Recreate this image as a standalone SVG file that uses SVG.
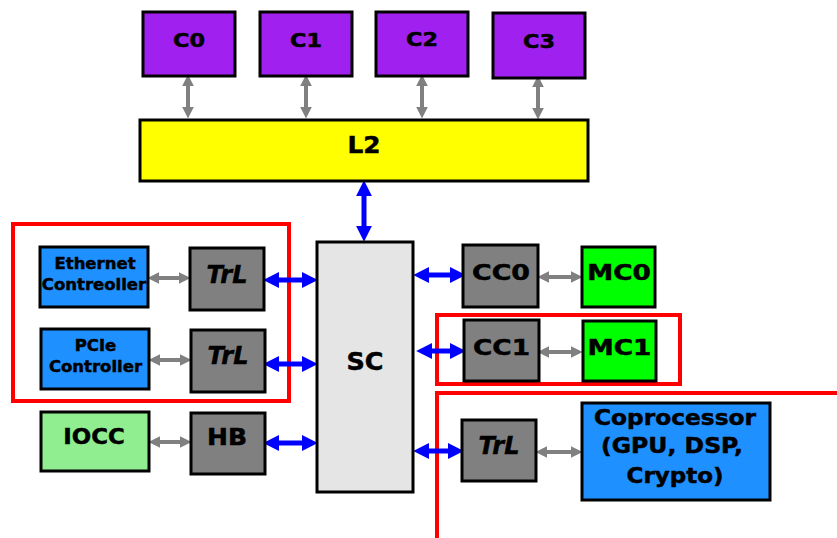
<svg xmlns="http://www.w3.org/2000/svg" width="837" height="538" viewBox="0 0 837 538">
<style>
.n{stroke:#000;stroke-width:3}
.t{font-family:"DejaVu Sans",sans-serif;font-weight:bold;text-anchor:middle;fill:#000;stroke:#000;stroke-width:0.5}
.g{stroke:#808080;stroke-width:4;fill:none}
.b{stroke:#0000ff;stroke-width:5;fill:none}
.r{stroke:#ff0000;stroke-width:4;fill:none}
</style>
<defs>
<marker id="gh" viewBox="0 0 10 10" refX="2" refY="5" markerWidth="3" markerHeight="3" orient="auto-start-reverse" markerUnits="strokeWidth"><path d="M0,0L10,5L0,10z" fill="#808080"/></marker>
<marker id="bh" viewBox="0 0 10 10" refX="2" refY="5" markerWidth="3.2" markerHeight="3.2" orient="auto-start-reverse" markerUnits="strokeWidth"><path d="M0,0L10,5L0,10z" fill="#0000ff"/></marker>
</defs>
<rect width="837" height="538" fill="#fff"/>
<g id="regions">
<rect class="r" x="13" y="224" width="276" height="177"/>
<rect class="r" x="437" y="315" width="243" height="69"/>
<path class="r" d="M437,538V393H837"/>
</g>
<g id="connectors">
<line class="g" x1="188" y1="84" x2="188" y2="109" marker-start="url(#gh)" marker-end="url(#gh)"/>
<line class="g" x1="306" y1="84" x2="306" y2="109" marker-start="url(#gh)" marker-end="url(#gh)"/>
<line class="g" x1="422" y1="84" x2="422" y2="109" marker-start="url(#gh)" marker-end="url(#gh)"/>
<line class="g" x1="538" y1="85" x2="538" y2="110" marker-start="url(#gh)" marker-end="url(#gh)"/>
<line class="b" x1="364" y1="193" x2="364" y2="229" marker-start="url(#bh)" marker-end="url(#bh)"/>
<line class="g" x1="157" y1="278" x2="181" y2="278" marker-start="url(#gh)" marker-end="url(#gh)"/>
<line class="g" x1="158" y1="360" x2="182" y2="360" marker-start="url(#gh)" marker-end="url(#gh)"/>
<line class="g" x1="158" y1="442" x2="182" y2="442" marker-start="url(#gh)" marker-end="url(#gh)"/>
<line class="b" x1="276" y1="280" x2="305" y2="280" marker-start="url(#bh)" marker-end="url(#bh)"/>
<line class="b" x1="276" y1="364" x2="305" y2="364" marker-start="url(#bh)" marker-end="url(#bh)"/>
<line class="b" x1="276" y1="443" x2="305" y2="443" marker-start="url(#bh)" marker-end="url(#bh)"/>
<line class="b" x1="426" y1="275" x2="453" y2="275" marker-start="url(#bh)" marker-end="url(#bh)"/>
<line class="b" x1="429" y1="351" x2="453" y2="351" marker-start="url(#bh)" marker-end="url(#bh)"/>
<line class="b" x1="426" y1="451" x2="451" y2="451" marker-start="url(#bh)" marker-end="url(#bh)"/>
<line class="g" x1="547" y1="277" x2="573" y2="277" marker-start="url(#gh)" marker-end="url(#gh)"/>
<line class="g" x1="547" y1="352" x2="573" y2="352" marker-start="url(#gh)" marker-end="url(#gh)"/>
<line class="g" x1="545" y1="452" x2="573" y2="452" marker-start="url(#gh)" marker-end="url(#gh)"/>
</g>
<g id="C0"><rect class="n" x="143" y="12" width="92" height="64" fill="#a020f0"/><text class="t" x="189" y="47" font-size="20" textLength="32" lengthAdjust="spacingAndGlyphs">C0</text></g>
<g id="C1"><rect class="n" x="260" y="12" width="92" height="64" fill="#a020f0"/><text class="t" x="306" y="47" font-size="20" textLength="32" lengthAdjust="spacingAndGlyphs">C1</text></g>
<g id="C2"><rect class="n" x="376" y="12" width="92" height="64" fill="#a020f0"/><text class="t" x="422" y="46" font-size="20" textLength="32" lengthAdjust="spacingAndGlyphs">C2</text></g>
<g id="C3"><rect class="n" x="493" y="13" width="92" height="65" fill="#a020f0"/><text class="t" x="539" y="48" font-size="20" textLength="32" lengthAdjust="spacingAndGlyphs">C3</text></g>
<g id="L2"><rect class="n" x="140" y="120" width="448" height="61" fill="#ffff00"/><text class="t" x="364" y="153" font-size="22.5" textLength="33" lengthAdjust="spacingAndGlyphs">L2</text></g>
<g id="SC"><rect class="n" x="317" y="242" width="96" height="250" fill="#e5e5e5"/><text class="t" x="365" y="370" font-size="24" textLength="37" lengthAdjust="spacingAndGlyphs">SC</text></g>
<g id="Ethernet"><rect class="n" x="40" y="247" width="108" height="60" fill="#1e90ff"/><text class="t" x="95" y="269" font-size="16.5">Ethernet</text><text class="t" x="94" y="290" font-size="16.5">Contreoller</text></g>
<g id="TrL1"><rect class="n" x="190" y="248" width="74" height="62" fill="#808080"/><text class="t" x="227" y="283" font-size="24" font-style="italic">TrL</text></g>
<g id="PCIe"><rect class="n" x="41" y="329" width="108" height="60" fill="#1e90ff"/><text class="t" x="95.5" y="351" font-size="16.5">PCIe</text><text class="t" x="95.5" y="372" font-size="16.5">Controller</text></g>
<g id="TrL2"><rect class="n" x="191" y="330" width="74" height="62" fill="#808080"/><text class="t" x="228" y="364" font-size="24" font-style="italic">TrL</text></g>
<g id="IOCC"><rect class="n" x="41" y="412" width="108" height="59" fill="#90ee90"/><text class="t" x="94" y="444" font-size="22" textLength="61.5" lengthAdjust="spacingAndGlyphs">IOCC</text></g>
<g id="HB"><rect class="n" x="191" y="413" width="74" height="61" fill="#808080"/><text class="t" x="227" y="445" font-size="23" textLength="40" lengthAdjust="spacingAndGlyphs">HB</text></g>
<g id="CC0"><rect class="n" x="463" y="245" width="75" height="62" fill="#808080"/><text class="t" x="501" y="280" font-size="22" textLength="58" lengthAdjust="spacingAndGlyphs">CC0</text></g>
<g id="MC0"><rect class="n" x="582" y="247" width="73" height="60" fill="#00ff00"/><text class="t" x="619" y="280" font-size="22" textLength="64" lengthAdjust="spacingAndGlyphs">MC0</text></g>
<g id="CC1"><rect class="n" x="464" y="320" width="75" height="61" fill="#808080"/><text class="t" x="501.5" y="355" font-size="22" textLength="57" lengthAdjust="spacingAndGlyphs">CC1</text></g>
<g id="MC1"><rect class="n" x="583" y="321" width="73" height="60" fill="#00ff00"/><text class="t" x="619.5" y="355" font-size="22" textLength="64" lengthAdjust="spacingAndGlyphs">MC1</text></g>
<g id="TrL3"><rect class="n" x="462" y="420" width="74" height="61" fill="#808080"/><text class="t" x="499" y="454" font-size="24" font-style="italic">TrL</text></g>
<g id="Coprocessor"><rect class="n" x="582" y="403" width="188" height="97" fill="#1e90ff"/><text class="t" x="675" y="425" font-size="22" textLength="162" lengthAdjust="spacingAndGlyphs">Coprocessor</text><text class="t" x="672" y="453" font-size="22" textLength="142" lengthAdjust="spacingAndGlyphs">(GPU, DSP,</text><text class="t" x="675" y="483" font-size="22" textLength="97" lengthAdjust="spacingAndGlyphs">Crypto)</text></g>
</svg>
